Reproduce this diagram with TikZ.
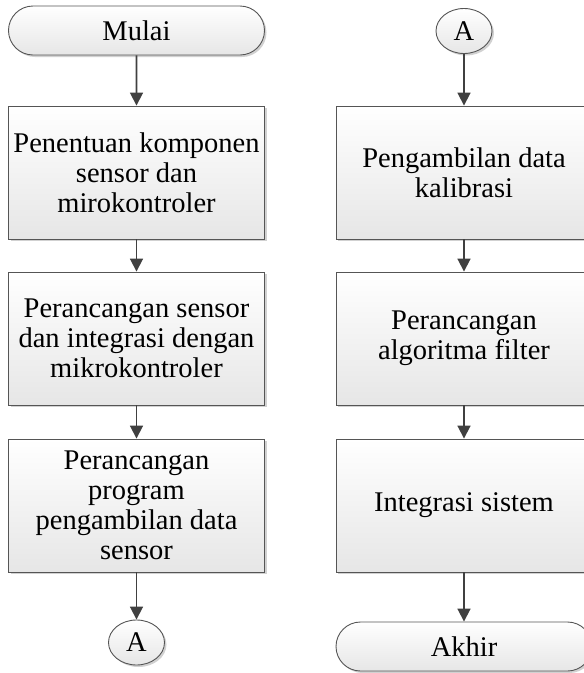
\documentclass[tikz,border=0pt]{standalone}
\usepackage{fontspec}
\setmainfont{Liberation Serif}
\usetikzlibrary{shapes.misc,shapes.geometric,arrows.meta,shadows}
\definecolor{edge}{HTML}{555555}
\definecolor{arr}{HTML}{404040}
\definecolor{fillbot}{HTML}{E6E6E6}
\tikzset{
  base/.style={draw=edge, line width=0.9pt, top color=white, bottom color=fillbot,
    drop shadow={shadow xshift=2pt, shadow yshift=-2pt, fill=black, opacity=0.18},
    align=center, font=\fontsize{28.5}{30}\selectfont, inner sep=0pt},
  procbox/.style={base, rectangle, minimum width=256pt, minimum height=133pt},
  termbox/.style={base, rounded rectangle, minimum width=256pt, minimum height=49pt},
  connbox/.style={base, ellipse, minimum width=56pt, minimum height=45pt},
  flow/.style={draw=arr, line width=1.8pt, -{Triangle[length=13pt,width=13pt]}}
}
\begin{document}
\begin{tikzpicture}[x=1pt,y=-1pt]
\useasboundingbox (0,0) rectangle (584,673);
% left column
\node[termbox] (mulai) at (136.5,30.5) {Mulai};
\node[procbox] (b1) at (136.5,172.5) {Penentuan komponen\\sensor dan\\mirokontroler};
\node[procbox] (b2) at (136.5,338.5) {Perancangan sensor\\dan integrasi dengan\\mikrokontroler};
\node[procbox] (b3) at (136.5,505.5) {Perancangan\\program\\pengambilan data\\sensor};
\node[connbox] (a1) at (136.5,642.5) {A};
% right column
\node[connbox] (a2) at (464,31) {A};
\node[procbox] (r1) at (464,172.5) {Pengambilan data\\kalibrasi};
\node[procbox] (r2) at (464,338.5) {Perancangan\\algoritma filter};
\node[procbox] (r3) at (464,505.5) {Integrasi sistem};
\node[termbox] (akhir) at (464,646.5) {Akhir};
% connectors
\draw[flow] (mulai) -- (b1);
\draw[flow] (b1) -- (b2);
\draw[flow] (b2) -- (b3);
\draw[flow] (b3) -- (a1);
\draw[flow] (a2) -- (r1);
\draw[flow] (r1) -- (r2);
\draw[flow] (r2) -- (r3);
\draw[flow] (r3) -- (akhir);
\end{tikzpicture}
\end{document}
